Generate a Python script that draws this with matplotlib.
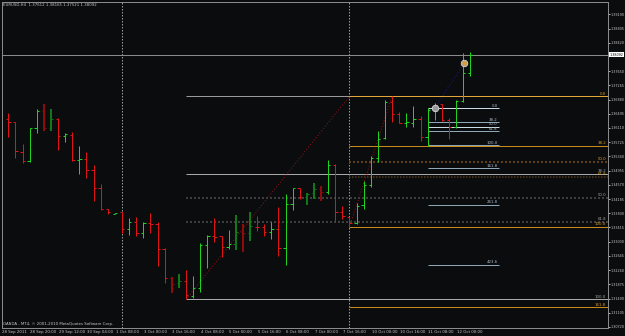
import matplotlib
matplotlib.use('Agg')
import matplotlib.pyplot as plt
from matplotlib.transforms import blended_transform_factory

BG = '#0b0c0e'
FS = 2.8
FSY = 2.45
TXT = '#c8c8c8'

# ---- OHLC data (EURUSD H4) ----
opens = [1.36345, 1.36264, 1.35451, 1.35223, 1.36101, 1.36562, 1.36109, 1.36361, 1.35885, 1.35912,
         1.35251, 1.35261, 1.34971, 1.34484, 1.33907, 1.33790, 1.33825, 1.33365, 1.33554, 1.33256,
         1.33527, 1.33500, 1.32823, 1.32037, 1.31902, 1.31964, 1.31566, 1.31766, 1.32931, 1.33183,
         1.33175, 1.32893, 1.32967, 1.33284, 1.33273, 1.33427, 1.33427, 1.33284, 1.33365, 1.32850,
         1.34058, 1.34476, 1.34248, 1.34356, 1.34449, 1.34367, 1.35099, 1.33825, 1.33690, 1.33544,
         1.34015, 1.34573, 1.35288, 1.35830, 1.36814, 1.36489, 1.36240, 1.36253, 1.36345, 1.35874,
         1.36605, 1.36752, 1.36326, 1.36128, 1.36849, 1.37612]
highs = [1.36508, 1.36280, 1.35676, 1.36109, 1.36616, 1.36768, 1.36624, 1.36372, 1.35966, 1.35993,
         1.35622, 1.35459, 1.35099, 1.34592, 1.33923, 1.33810, 1.33842, 1.33671, 1.33698, 1.33563,
         1.33806, 1.33571, 1.32850, 1.32081, 1.32154, 1.32262, 1.32100, 1.33002, 1.33210, 1.33679,
         1.33183, 1.33346, 1.33744, 1.33508, 1.33834, 1.33733, 1.33508, 1.33563, 1.33977, 1.34321,
         1.34484, 1.34484, 1.34348, 1.34619, 1.34538, 1.35242, 1.35134, 1.33996, 1.33706, 1.34085,
         1.34682, 1.35351, 1.36036, 1.36868, 1.36968, 1.36551, 1.36508, 1.36705, 1.36435, 1.36643,
         1.36795, 1.36760, 1.36372, 1.36868, 1.38133, 1.38165]
lows = [1.35857, 1.35305, 1.35169, 1.35180, 1.35982, 1.36036, 1.36036, 1.35505, 1.35738, 1.35215,
        1.34871, 1.34747, 1.34140, 1.33896, 1.33787, 1.33785, 1.33265, 1.33202, 1.33191, 1.33121,
        1.33265, 1.32379, 1.31918, 1.31631, 1.31774, 1.31468, 1.31495, 1.31674, 1.32324, 1.33029,
        1.32606, 1.32839, 1.32804, 1.32758, 1.33048, 1.33327, 1.33191, 1.33110, 1.32641, 1.32406,
        1.33896, 1.34194, 1.34023, 1.34186, 1.34140, 1.34321, 1.33582, 1.33652, 1.33435, 1.33508,
        1.33915, 1.34519, 1.35180, 1.35811, 1.36280, 1.36237, 1.36145, 1.36145, 1.35765, 1.35622,
        1.36326, 1.36307, 1.35803, 1.36101, 1.36806, 1.37521]
closes = [1.36264, 1.35486, 1.35215, 1.36101, 1.36562, 1.36101, 1.36353, 1.35885, 1.35947, 1.35234,
          1.35261, 1.34971, 1.34484, 1.33915, 1.33825, 1.33800, 1.33365, 1.33554, 1.33265, 1.33544,
          1.33517, 1.32831, 1.32037, 1.31891, 1.31964, 1.31577, 1.31766, 1.32931, 1.33175, 1.33164,
          1.32885, 1.32967, 1.33284, 1.33256, 1.33446, 1.33419, 1.33300, 1.33373, 1.32850, 1.34058,
          1.34476, 1.34248, 1.34329, 1.34457, 1.34367, 1.35107, 1.33825, 1.33717, 1.33535, 1.33996,
          1.34557, 1.35288, 1.35820, 1.36814, 1.36489, 1.36253, 1.36265, 1.36345, 1.35874, 1.36605,
          1.36733, 1.36326, 1.36145, 1.36849, 1.37612, 1.38092]
# bar style: g = up, r = down, G = up (dark), R = down (dark)
kinds = ['r', 'r', 'r', 'g', 'g', 'R', 'G', 'r', 'g', 'r',
         'g', 'r', 'r', 'r', 'r', 'g', 'r', 'g', 'r', 'g',
         'r', 'r', 'r', 'R', 'G', 'r', 'g', 'g', 'g', 'r',
         'r', 'g', 'G', 'R', 'G', 'r', 'r', 'g', 'r', 'g',
         'g', 'r', 'G', 'G', 'R', 'g', 'r', 'r', 'r', 'g',
         'g', 'g', 'g', 'g', 'r', 'r', 'g', 'g', 'r', 'g',
         'g', 'r', 'r', 'g', 'g', 'g']

time_labels = ["28 Sep 2011", "28 Sep 20:00", "29 Sep 12:00", "30 Sep 04:00", "1 Oct 08:00",
               "3 Oct 00:00", "3 Oct 16:00", "4 Oct 08:00", "5 Oct 00:00", "5 Oct 16:00",
               "6 Oct 08:00", "7 Oct 00:00", "7 Oct 16:00", "10 Oct 00:00", "10 Oct 16:00",
               "11 Oct 08:00", "12 Oct 00:00"]
separators = [16, 48]

price_ticks = [1.39190, 1.38805, 1.38420, 1.37650, 1.37265, 1.36880, 1.36495, 1.36110,
               1.35725, 1.35340, 1.34955, 1.34570, 1.34185, 1.33800, 1.33415, 1.33030,
               1.32645, 1.32260, 1.31875, 1.31490, 1.31105, 1.30720]
bid = 1.38092

# Fibonacci objects
fib_levels = [0.0, 38.2, 50.0, 61.8, 100.0, 161.8]
fib_hi, fib_lo, fib_start = 1.36968, 1.33435, 48          # orange
gfib_levels = [0.0, 38.2, 50.0, 61.8, 100.0]
gfib_hi, gfib_lo, gfib_start, gfib_end = 1.36968, 1.31468, 25, 48  # gray
efib_levels = [0.0, 38.2, 50.0, 61.8, 100.0, 161.8, 261.8, 423.6]
efib_top, efib_bot, efib_x0, efib_x1 = 1.36643, 1.35641, 59.1, 69.0  # expansion
marks_x = [60, 64.15]
marks_y = [1.36643, 1.37879]

fig = plt.figure(figsize=(6.25, 3.36), dpi=100, facecolor=BG)
ax = fig.add_axes([2/625, 1 - 328/336, 606/625, 326/336], facecolor=BG)
ax.set_xlim(-0.886, 84.37)
ax.set_ylim(1.30691, 1.39523)
PX = 0.72

# separators
for s in separators:
    ax.axvline(s, color='#9a9a9a', lw=PX, ls=(0, (1.5, 1.5)), zorder=1)

# bid line
ax.axhline(bid, color='#8a8a8a', lw=PX, zorder=1)

# gray fib
span = gfib_hi - gfib_lo
gstyles = {0.0: ('#9a9a9a', '-', PX), 38.2: ('#a8a8a8', '-', PX), 50.0: ('#3e3e3e', (0, (1, 1)), 2*PX),
           61.8: ('#3e3e3e', (0, (1, 1)), 2*PX), 100.0: ('#a8a8a8', '-', PX)}
for lv in gfib_levels:
    p = gfib_hi - lv / 100 * span
    c, ls, lw = gstyles[lv]
    ax.hlines(p, gfib_start, 84.37, colors=c, linestyles=[ls], lw=lw, zorder=1)
    if lv > 0:
        ax.annotate(f'{lv:.1f}', xy=(0.9967, p), xycoords=('axes fraction', 'data'),
                    xytext=(0, 1.9), textcoords='offset points', ha='right', va='center',
                    fontsize=FS, color='#a0a0a0')
ax.plot([gfib_start, gfib_end], [gfib_lo, gfib_hi], color='#9b1010', lw=PX, ls=(0, (1, 2)), zorder=1)

# orange fib
span = fib_hi - fib_lo
ostyles = {0.0: ('#e3a53a', '-', PX), 38.2: ('#c98a1c', '-', PX), 50.0: ('#5e4016', (0, (1, 1)), 2*PX),
           61.8: ('#52391a', (0, (1, 1)), 1.5*PX), 100.0: ('#c98a1c', '-', PX), 161.8: ('#c98a1c', '-', PX)}
for lv in fib_levels:
    p = fib_hi - lv / 100 * span
    c, ls, lw = ostyles[lv]
    ax.hlines(p, fib_start, 84.37, colors=c, linestyles=[ls], lw=lw, zorder=1.2)
    ax.annotate(f'{lv:.1f}', xy=(0.9967, p), xycoords=('axes fraction', 'data'),
                xytext=(0, 1.9), textcoords='offset points', ha='right', va='center',
                fontsize=FS, color='#d89a2a')
ax.plot([fib_start, 54], [fib_lo, fib_hi], color='#9b1010', lw=PX, ls=(0, (1, 2)), zorder=1)

# expansion fib
span = efib_top - efib_bot
for lv in efib_levels:
    p = efib_top - lv / 100 * span
    c = '#c8dae6' if lv in (0.0, 50.0) else '#8fa6b6'
    ax.hlines(p, efib_x0, efib_x1, colors=c, lw=PX, zorder=1.3)
    ax.annotate(f'{lv:.1f}', xy=(efib_x1 - 0.15, p), xycoords='data',
                xytext=(0, 1.9), textcoords='offset points', ha='right', va='center',
                fontsize=FS, color='#a9bccb')
ax.plot(marks_x, marks_y, color='#1a1a8a', lw=PX, ls=(0, (1, 2)), zorder=1.3)

# OHLC bars
cmap = {'g': ('#1ed21e', PX), 'r': ('#e01414', PX), 'G': ('#11781a', 2*PX), 'R': ('#8e0b0b', 2*PX)}
for i, (o, h, l, c, k) in enumerate(zip(opens, highs, lows, closes, kinds)):
    col, lw = cmap[k]
    ax.vlines(i, l, h, colors=col, lw=lw, zorder=3)
    ax.hlines(o, i - 0.32, i, colors=col, lw=PX, zorder=3)
    ax.hlines(c, i, i + 0.32, colors=col, lw=PX, zorder=3)

# markers
ax.scatter(marks_x, marks_y, s=22, facecolor='#9a9a9a', edgecolor='#d8d8d8', lw=0.6, zorder=4)
ax.scatter(marks_x[1:], marks_y[1:], s=5, color='#e0a030', zorder=5)

# axes styling
for sp in ax.spines.values():
    sp.set_color('#8a8a8a')
    sp.set_linewidth(PX)
ax.yaxis.tick_right()
ax.set_yticks(price_ticks)
ax.set_yticklabels([f'{t:.5f}' for t in price_ticks])
ax.tick_params(axis='y', length=1.4, width=PX, color='#b0b0b0', pad=0.5, labelsize=FSY, labelcolor=TXT)
ax.set_xticks([])

# bid label
ax.annotate(f'{bid:.5f}', xy=(1.0, bid), xycoords=('axes fraction', 'data'),
            xytext=(1.4, 0), textcoords='offset points', ha='left', va='center',
            fontsize=FSY, color='black',
            bbox=dict(boxstyle='square,pad=0.15', fc='white', ec='white', lw=0))

# time labels
tr = blended_transform_factory(ax.transData, ax.transAxes)
for k, lab in enumerate(time_labels):
    xi = 4 * k - 1
    ax.text(xi + 0.1, -0.0125, lab, transform=tr, ha='left', va='center', fontsize=FS,
            color=TXT, clip_on=False)

fig.text(3/625, 1 - 5/336, 'EURUSD,H4  1.37612 1.38165 1.37521 1.38092', ha='left', va='center',
         fontsize=FS, color=TXT)
fig.text(3/625, 1 - 324/336, 'OANDA - MT4, \u00a9 2001-2010 MetaQuotes Software Corp.', ha='left',
         va='center', fontsize=FS, color=TXT)

fig.savefig('out.png', dpi=100, facecolor=BG)
